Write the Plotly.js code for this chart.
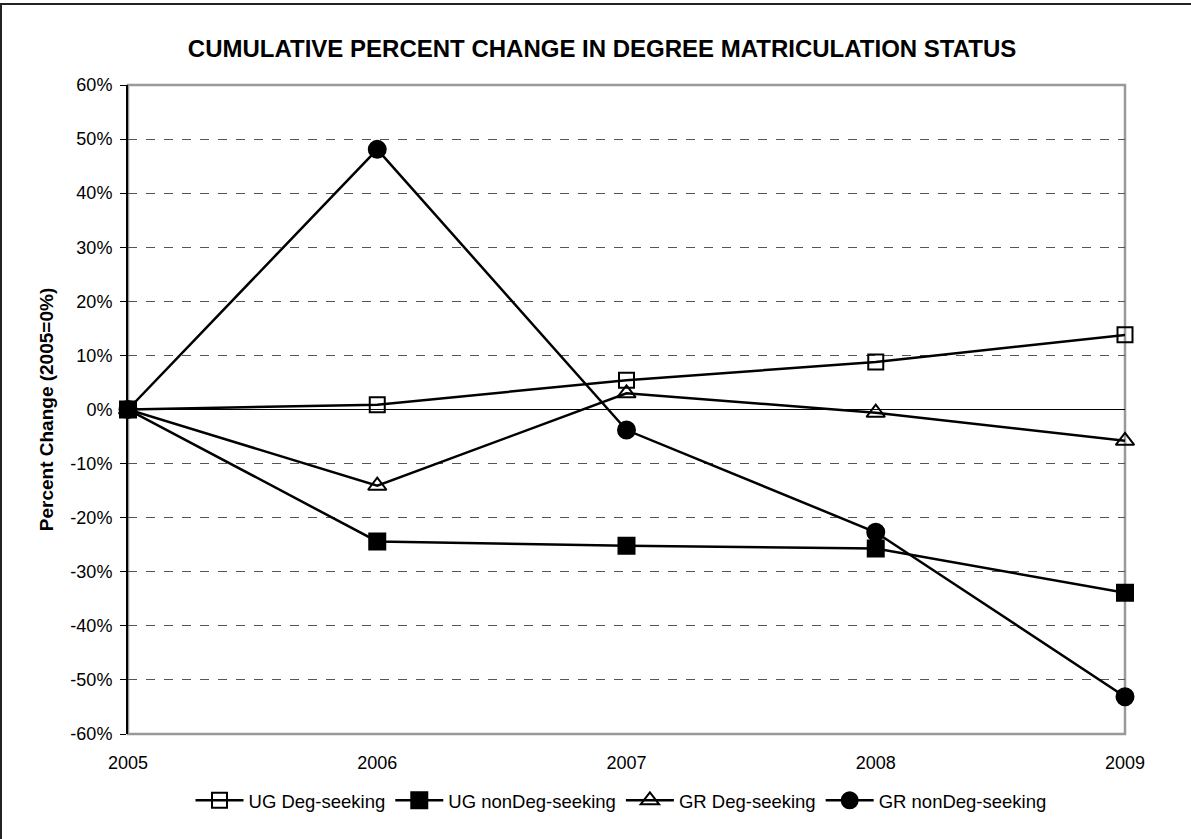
<!DOCTYPE html>
<html>
<head>
<meta charset="utf-8">
<script src="https://cdn.plot.ly/plotly-3.0.1.min.js"></script>
<style>
  html, body { margin: 0; padding: 0; background: #fff; }
  #chart { position: absolute; left: 0; top: 0; width: 1191px; height: 839px; }
  #frame { position: absolute; left: 0; top: 3px; width: 1300px; height: 900px;
           border-left: 2px solid #222; border-top: 2px solid #222; pointer-events: none; }
</style>
</head>
<body>
<div id="chart"></div>
<div id="frame"></div>
<script>
const years = [2005, 2006, 2007, 2008, 2009];
const ugDeg = [0, 0.009, 0.054, 0.088, 0.138];
const ugNonDeg = [0, -0.244, -0.252, -0.257, -0.339];
const grDeg = [0, -0.141, 0.030, -0.006, -0.058];
const grNonDeg = [0, 0.481, -0.038, -0.227, -0.531];
const yTicks = [-0.6, -0.5, -0.4, -0.3, -0.2, -0.1, 0, 0.1, 0.2, 0.3, 0.4, 0.5, 0.6];
const yTickText = ['-60%', '-50%', '-40%', '-30%', '-20%', '-10%', '0%', '10%', '20%', '30%', '40%', '50%', '60%'];
const seriesNames = ['UG Deg-seeking', 'UG nonDeg-seeking', 'GR Deg-seeking', 'GR nonDeg-seeking'];

const font = 'Liberation Sans, Arial, sans-serif';
function tr(name, ys, symbol, size) {
  return {
    x: years, y: ys, name: name, type: 'scatter', mode: 'lines+markers',
    line: { color: '#000', width: 2.5 },
    marker: { symbol: symbol, size: size, color: '#000', line: { color: '#000', width: 2 } },
    cliponaxis: false
  };
}
const data = [
  tr(seriesNames[0], ugDeg, 'square-open', 15),
  tr(seriesNames[1], ugNonDeg, 'square', 16),
  tr(seriesNames[2], grDeg, 'triangle-up-open', 16),
  tr(seriesNames[3], grNonDeg, 'circle', 17)
];
const layout = {
  width: 1191, height: 839,
  margin: { l: 128, r: 66, t: 85, b: 105 },
  paper_bgcolor: '#fff', plot_bgcolor: '#fff',
  font: { family: font, color: '#000', size: 18 },
  title: { text: '<b>CUMULATIVE PERCENT CHANGE IN DEGREE MATRICULATION STATUS</b>',
           font: { family: font, size: 24, color: '#000' },
           x: 0.5055, xref: 'container', xanchor: 'center', y: 0.942, yref: 'container', yanchor: 'middle' },
  xaxis: {
    range: [2005, 2009], tickvals: years, ticktext: years.map(String),
    showline: false, showgrid: false, zeroline: false, ticks: '',
    ticklabelstandoff: 16,
    tickfont: { family: font, size: 18 }, fixedrange: true
  },
  xaxis2: {
    overlaying: 'x', anchor: 'free', position: 0.5, range: [2005, 2009], tickvals: years,
    showticklabels: false, ticks: 'outside', ticklen: 6, tickwidth: 1, tickcolor: '#000',
    showline: false, showgrid: false, zeroline: false
  },
  xaxis3: {
    overlaying: 'x', anchor: 'free', position: 0.5, range: [2005, 2009], tickvals: years,
    showticklabels: false, ticks: 'inside', ticklen: 6, tickwidth: 1, tickcolor: '#000',
    showline: false, showgrid: false, zeroline: false
  },
  yaxis: {
    range: [-0.6, 0.6], tickvals: yTicks, ticktext: yTickText,
    showline: true, linecolor: '#000', linewidth: 2,
    ticks: 'outside', ticklen: 6, tickcolor: '#000', tickwidth: 1,
    ticklabelstandoff: 4,
    showgrid: true, gridcolor: '#555', griddash: 'dash', gridwidth: 1,
    zeroline: true, zerolinecolor: '#000', zerolinewidth: 1.5,
    tickfont: { family: font, size: 18 },
    title: { text: '<b>Percent Change (2005=0%)</b>', font: { family: font, size: 19 }, standoff: 12 },
    fixedrange: true
  },
  shapes: [{
    type: 'rect', xref: 'paper', yref: 'paper', x0: 0, x1: 1, y0: 0, y1: 1,
    line: { color: '#999', width: 2.5 }, layer: 'below'
  }],
  legend: {
    orientation: 'h', x: 0.4945, xanchor: 'center', y: -0.103, yanchor: 'middle',
    font: { family: font, size: 18.5 }, bgcolor: 'rgba(0,0,0,0)', itemwidth: 48,
    tracegroupgap: 0
  },
  showlegend: true
};
Plotly.newPlot('chart', data, layout, { displayModeBar: false, staticPlot: true });
</script>
</body>
</html>
